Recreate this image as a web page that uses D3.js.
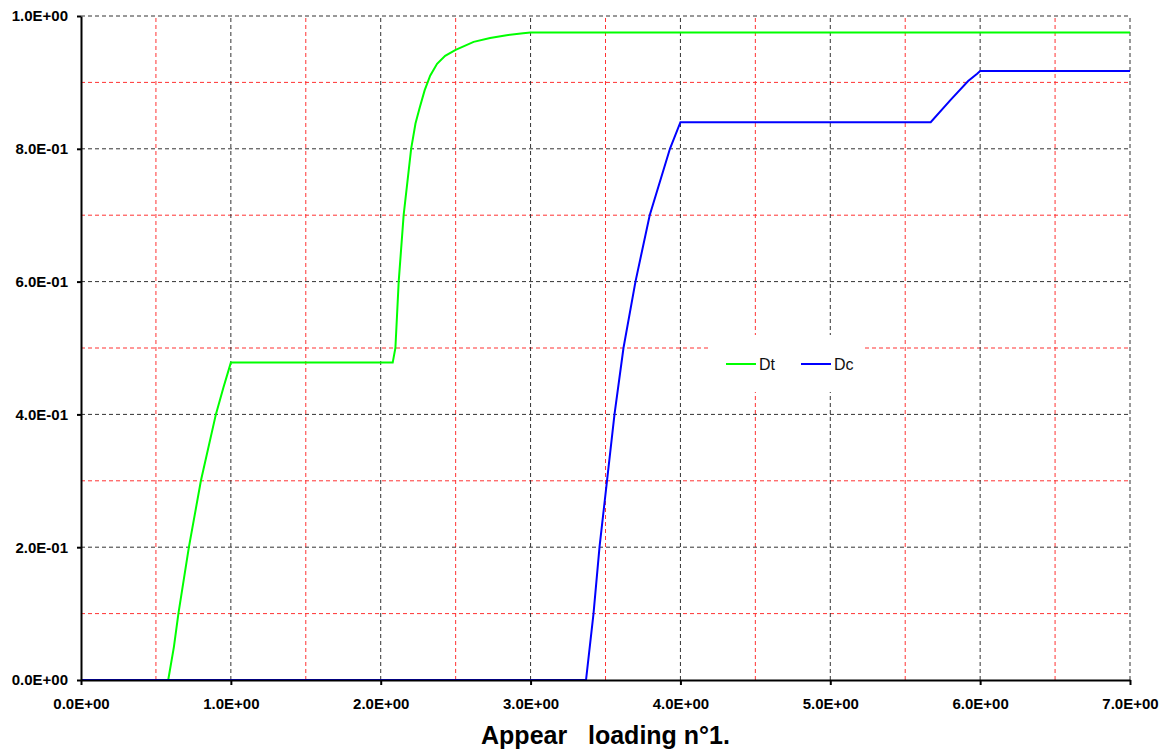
<!DOCTYPE html>
<html>
<head>
<meta charset="utf-8">
<script src="https://cdn.jsdelivr.net/npm/d3@7"></script>
<style>
  body { margin: 0; background: #fff; }
  svg { display: block; font-family: Arial, "Liberation Sans", sans-serif; }
</style>
</head>
<body>
<div id="vis"></div>
<script>
// series: [x, y]
const dtX = [0, 0.582, 0.62, 0.65, 0.72, 0.80, 0.90, 0.95, 1.0, 2.08, 2.098, 2.12, 2.153, 2.203, 2.232, 2.26, 2.293, 2.33, 2.376, 2.43, 2.50, 2.62, 2.73, 2.84, 2.95, 3.0, 7.0]
const dtY = [0, 0, 0.05, 0.10, 0.20, 0.30, 0.40, 0.44, 0.478, 0.478, 0.50, 0.60, 0.70, 0.80, 0.838, 0.862, 0.888, 0.910, 0.928, 0.940, 0.949, 0.961, 0.967, 0.971, 0.974, 0.975, 0.975]
const dcX = [0, 3.37, 3.42, 3.46, 3.51, 3.56, 3.62, 3.70, 3.795, 3.93, 4.0, 5.67, 5.80, 5.92, 5.98, 6.0, 7.0]
const dcY = [0, 0, 0.10, 0.20, 0.30, 0.40, 0.50, 0.60, 0.70, 0.80, 0.84, 0.84, 0.873, 0.902, 0.913, 0.917, 0.917]

const xMajor = [0, 1, 2, 3, 4, 5, 6, 7]
const xMinor = [0.5, 1.5, 2.5, 3.5, 4.5, 5.5, 6.5]
const yMajor = [0, 0.2, 0.4, 0.6, 0.8, 1.0]
const yMinor = [0.1, 0.3, 0.5, 0.7, 0.9]

const seriesNames = ['Dt', 'Dc']
const seriesColors = ['#00ff00', '#0000ff']
const title = 'Appear   loading n°1.'

const W = 1172, H = 751
const margin = {left: 81, top: 16, right: 42, bottom: 71}

const x = d3.scaleLinear().domain([0, 7]).range([margin.left, W - margin.right])
const y = d3.scaleLinear().domain([0, 1]).range([H - margin.bottom, margin.top])

const svg = d3.select('#vis').append('svg')
    .attr('width', W)
    .attr('height', H)

// gridlines, red minor first then black major
const grid = svg.append('g')
grid.selectAll('.vmin').data(xMinor).join('line')
    .attr('x1', d => x(d)).attr('x2', d => x(d))
    .attr('y1', y(0)).attr('y2', y(1))
    .attr('stroke', '#ff3333').attr('stroke-dasharray', '4,3')
grid.selectAll('.hmin').data(yMinor).join('line')
    .attr('y1', d => y(d)).attr('y2', d => y(d))
    .attr('x1', x(0)).attr('x2', x(7))
    .attr('stroke', '#ff3333').attr('stroke-dasharray', '4,3')
grid.selectAll('.vmaj').data(xMajor.slice(1)).join('line')
    .attr('x1', d => x(d)).attr('x2', d => x(d))
    .attr('y1', y(0)).attr('y2', y(1))
    .attr('stroke', '#333').attr('stroke-dasharray', '4,3')
grid.selectAll('.hmaj').data(yMajor.slice(1)).join('line')
    .attr('y1', d => y(d)).attr('y2', d => y(d))
    .attr('x1', x(0)).attr('x2', x(7))
    .attr('stroke', '#333').attr('stroke-dasharray', '4,3')

// series lines
const line = d3.line().x(d => x(d[0])).y(d => y(d[1]))
const series = [d3.zip(dtX, dtY), d3.zip(dcX, dcY)]
svg.selectAll('.series').data(series).join('path')
    .attr('fill', 'none')
    .attr('stroke', (d, i) => seriesColors[i])
    .attr('stroke-width', 2)
    .attr('d', line)

// axes
const fmt = d => d.toFixed(1) + 'E+00'
const fmtY = d => d === 1 ? '1.0E+00' : d === 0 ? '0.0E+00' : (d * 10).toFixed(1) + 'E-01'

const xAxis = svg.append('g')
    .attr('transform', `translate(0,${y(0)})`)
    .call(d3.axisBottom(x).tickValues(xMajor).tickFormat(fmt).tickSize(5).tickSizeOuter(0))
const yAxis = svg.append('g')
    .attr('transform', `translate(${x(0)},0)`)
    .call(d3.axisLeft(y).tickValues(yMajor).tickFormat(fmtY).tickSize(4).tickSizeOuter(0))

for (const ax of [xAxis, yAxis]) {
    ax.attr('font-size', null).attr('font-family', null)
    ax.select('.domain').attr('stroke', '#000').attr('stroke-width', 2)
    ax.selectAll('.tick line').attr('stroke', '#000').attr('stroke-width', 2)
    ax.selectAll('text')
        .attr('fill', '#000')
        .style('font-size', '15px')
        .style('font-weight', 'bold')
}
xAxis.selectAll('text').attr('y', 18)
yAxis.selectAll('text').attr('x', -13)

// legend with white box over the grid
const lg = svg.append('g')
lg.append('rect')
    .attr('x', 710).attr('y', 335).attr('width', 155).attr('height', 57)
    .attr('fill', '#fff')
const items = lg.selectAll('.item').data(seriesNames).join('g')
    .attr('transform', (d, i) => `translate(${726 + i * 75},364)`)
items.append('line')
    .attr('x1', 0).attr('x2', 30)
    .attr('stroke', (d, i) => seriesColors[i])
    .attr('stroke-width', 2)
items.append('text')
    .attr('x', 33).attr('dy', '0.36em')
    .style('font-size', '16px')
    .attr('fill', '#111')
    .text(d => d)

// title
svg.append('text')
    .attr('x', (x(0) + x(7)) / 2)
    .attr('y', 744)
    .attr('text-anchor', 'middle')
    .style('font-size', '25px')
    .style('font-weight', 'bold')
    .style('white-space', 'pre')
    .text(title)
</script>
</body>
</html>
